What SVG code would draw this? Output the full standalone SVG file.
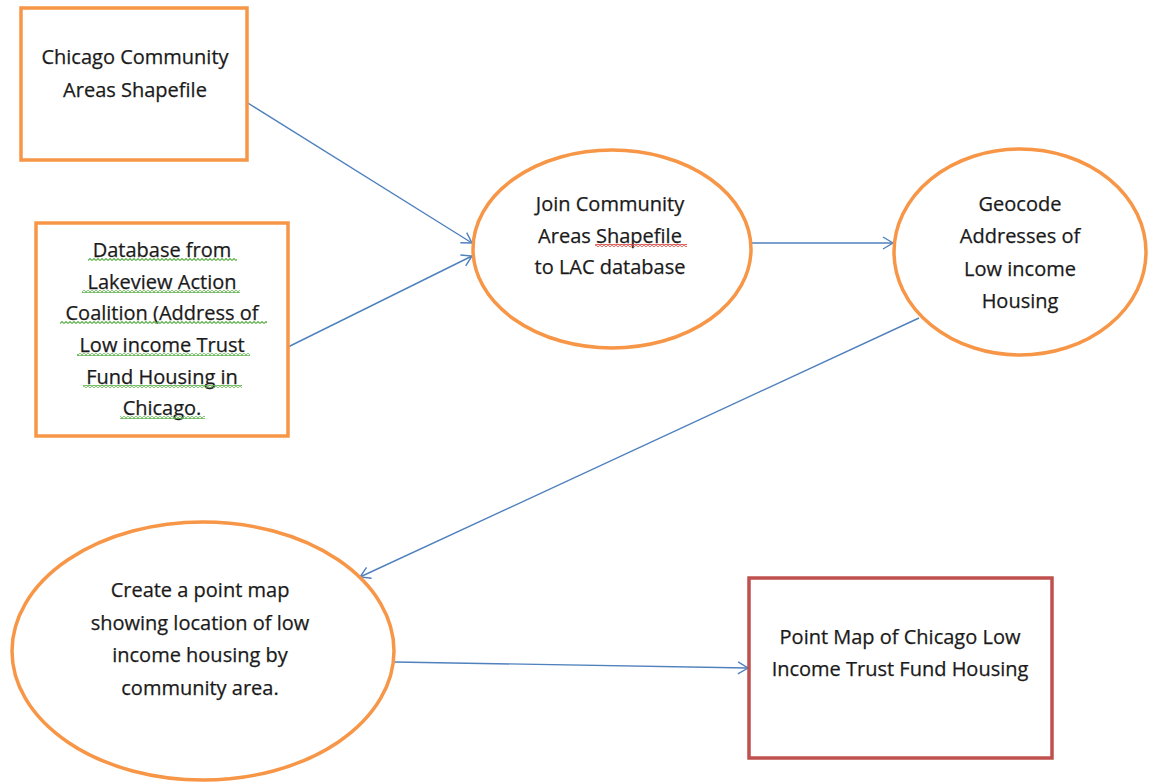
<svg xmlns="http://www.w3.org/2000/svg" width="1149" height="783" viewBox="0 0 1149 783">
  <style>
    .box { fill: #ffffff; stroke: #F79646; stroke-width: 3.5; }
    .red { fill: #ffffff; stroke: #C0504D; stroke-width: 3.5; }
    .ell { fill: #ffffff; stroke: #F79646; stroke-width: 3.5; }
    .lbl { font-family: "Open Sans", "Liberation Sans", sans-serif; font-size: 20px; fill: #1a1a1a; text-anchor: middle; stroke: #1a1a1a; stroke-width: 0.25; }
    .conn { fill: none; stroke: #4F81BD; stroke-width: 1.4; marker-end: url(#arr); }
  </style>
  <defs>
    <marker id="arr" markerUnits="userSpaceOnUse" markerWidth="14" markerHeight="14" refX="11" refY="7" orient="auto">
      <path d="M1,1 L11,7 L1,13" fill="none" stroke="#4F81BD" stroke-width="1.4"/>
    </marker>
    <pattern id="gwave" patternUnits="userSpaceOnUse" width="4" height="3">
      <polyline points="0,2.5 2,0.5 4,2.5" fill="none" stroke="#5DB14A" stroke-width="1.1"/>
    </pattern>
    <pattern id="rwave" patternUnits="userSpaceOnUse" width="4" height="3">
      <polyline points="0,2.5 2,0.5 4,2.5" fill="none" stroke="#E0403A" stroke-width="1.1"/>
    </pattern>
  </defs>
  <rect x="0" y="0" width="1149" height="783" fill="#ffffff"/>

  <g id="connectors">
    <line class="conn" x1="243" y1="100" x2="472" y2="243"/>
    <line class="conn" x1="288" y1="347" x2="472" y2="256"/>
    <line class="conn" x1="752" y1="243" x2="893" y2="243"/>
    <line class="conn" x1="919" y1="318" x2="360" y2="577"/>
    <line class="conn" x1="395" y1="662" x2="748" y2="668"/>
  </g>

  <g id="node-shapefile">
    <rect class="box" x="21" y="8" width="226" height="152"/>
    <text class="lbl" x="135" y="64">Chicago Community</text>
    <text class="lbl" x="135" y="97">Areas Shapefile</text>
  </g>

  <g id="node-database">
    <rect class="box" x="36" y="223" width="252" height="213"/>
    <text class="lbl" x="162" y="257">Database from</text>
    <text class="lbl" x="162" y="289">Lakeview Action</text>
    <text class="lbl" x="162" y="320">Coalition (Address of</text>
    <text class="lbl" x="162" y="352">Low income Trust</text>
    <text class="lbl" x="162" y="384">Fund Housing in</text>
    <text class="lbl" x="162" y="415">Chicago.</text>
    <g id="spell-green">
      <rect x="88" y="258" width="149" height="3" fill="url(#gwave)"/>
      <rect x="82" y="290" width="158" height="3" fill="url(#gwave)"/>
      <rect x="60" y="321" width="207" height="3" fill="url(#gwave)"/>
      <rect x="77" y="353" width="173" height="3" fill="url(#gwave)"/>
      <rect x="83" y="385" width="159" height="3" fill="url(#gwave)"/>
      <rect x="120" y="416" width="85" height="3" fill="url(#gwave)"/>
    </g>
  </g>

  <g id="node-join">
    <ellipse class="ell" cx="612" cy="249" rx="139" ry="99"/>
    <text class="lbl" x="610" y="211">Join Community</text>
    <text class="lbl" x="610" y="242.5">Areas Shapefile</text>
    <text class="lbl" x="610" y="274">to LAC database</text>
    <rect x="595" y="244" width="92" height="3" fill="url(#rwave)"/>
  </g>

  <g id="node-geocode">
    <ellipse class="ell" cx="1020" cy="252" rx="126" ry="103"/>
    <text class="lbl" x="1020" y="211">Geocode</text>
    <text class="lbl" x="1020" y="243">Addresses of</text>
    <text class="lbl" x="1020" y="276">Low income</text>
    <text class="lbl" x="1020" y="308">Housing</text>
  </g>

  <g id="node-pointmap">
    <ellipse class="ell" cx="203" cy="651" rx="191" ry="129"/>
    <text class="lbl" x="200" y="597">Create a point map</text>
    <text class="lbl" x="200" y="630">showing location of low</text>
    <text class="lbl" x="200" y="662">income housing by</text>
    <text class="lbl" x="200" y="695">community area.</text>
  </g>

  <g id="node-result">
    <rect class="red" x="749" y="578" width="303" height="180"/>
    <text class="lbl" x="900" y="644">Point Map of Chicago Low</text>
    <text class="lbl" x="900" y="676">Income Trust Fund Housing</text>
  </g>
</svg>
